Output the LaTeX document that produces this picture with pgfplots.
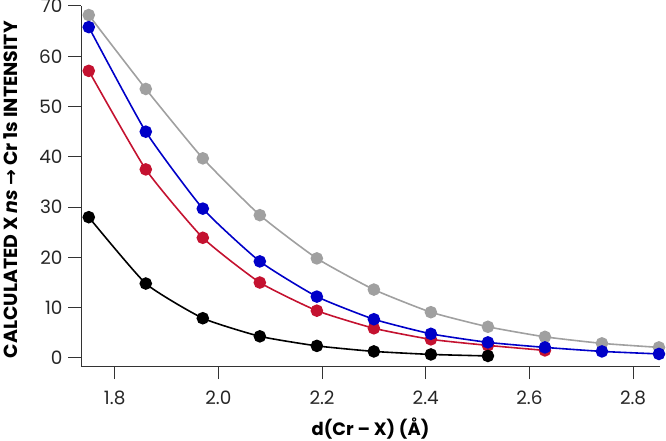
\documentclass[border=0pt]{standalone}
\usepackage{pgfplots}
\pgfplotsset{compat=1.18}
\usepackage{fontspec}
\setmainfont{Poppins}
\newfontfamily\dejavu{DejaVu Sans}
\definecolor{cgray}{RGB}{160,160,160}
\definecolor{cblue}{RGB}{0,0,200}
\definecolor{cred}{RGB}{196,18,48}
\begin{document}
\begin{tikzpicture}
\begin{axis}[
  name=ax,
  scale only axis,
  width=579bp, height=360bp,
  xmin=1.735, xmax=2.852,
  ymin=-1.6, ymax=70,
  axis x line=bottom, axis y line=left,
  axis line style={-, line width=1pt, color=black!80},
  xtick={1.8,2.0,2.2,2.4,2.6,2.8},
  ytick={0,10,...,70},
  tick align=outside,
  major tick length=13bp,
  tick style={line width=1pt, color=black!80},
  xticklabel style={/pgf/number format/fixed, /pgf/number format/fixed zerofill, /pgf/number format/precision=1, yshift=-8bp},
  /pgf/number format/assume math mode=true,
  tick label style={font=\fontsize{18.5}{18.5}\selectfont, color=black!85},
  yticklabel style={xshift=-2bp},
  xlabel={\bfseries d(Cr – X) (Å)},
  ylabel={\bfseries CALCULATED X \textit{ns} {\dejavu\bfseries →} Cr 1s INTENSITY},
  xlabel style={font=\fontsize{18}{18}\selectfont, at={(axis description cs:0.5,-0.194)}, anchor=base},
  ylabel style={font=\fontsize{19}{19}\selectfont, at={(axis description cs:-0.1105,0.49)}, anchor=base},
  every axis plot/.append style={line width=1.6pt, smooth, tension=0.3, mark=*, mark size=5.5pt, mark options={draw=black!85, line width=0.9pt}},
  clip=false,
]
\addplot[color=cgray, mark options={fill=cgray}] coordinates {
(1.75,68.2)(1.86,53.5)(1.97,39.7)(2.08,28.4)(2.19,19.8)(2.30,13.6)(2.41,9.1)(2.52,6.2)(2.63,4.2)(2.74,2.9)(2.85,2.1)};
\addplot[color=cred, mark options={fill=cred}] coordinates {
(1.75,57.1)(1.86,37.5)(1.97,23.9)(2.08,15.0)(2.19,9.4)(2.30,5.9)(2.41,3.7)(2.52,2.5)(2.63,1.5)};
\addplot[color=cblue, mark options={fill=cblue}] coordinates {
(1.75,65.8)(1.86,45.0)(1.97,29.7)(2.08,19.2)(2.19,12.2)(2.30,7.7)(2.41,4.8)(2.52,3.1)(2.63,2.1)(2.74,1.3)(2.85,0.8)};
\addplot[color=black, mark options={fill=black}] coordinates {
(1.75,28.0)(1.86,14.8)(1.97,7.9)(2.08,4.3)(2.19,2.4)(2.30,1.3)(2.41,0.7)(2.52,0.4)};
\end{axis}
\pgfresetboundingbox
\path[use as bounding box] ([xshift=-81bp,yshift=-75bp]ax.south west) rectangle ([xshift=6bp,yshift=6bp]ax.north east);
\end{tikzpicture}
\end{document}
